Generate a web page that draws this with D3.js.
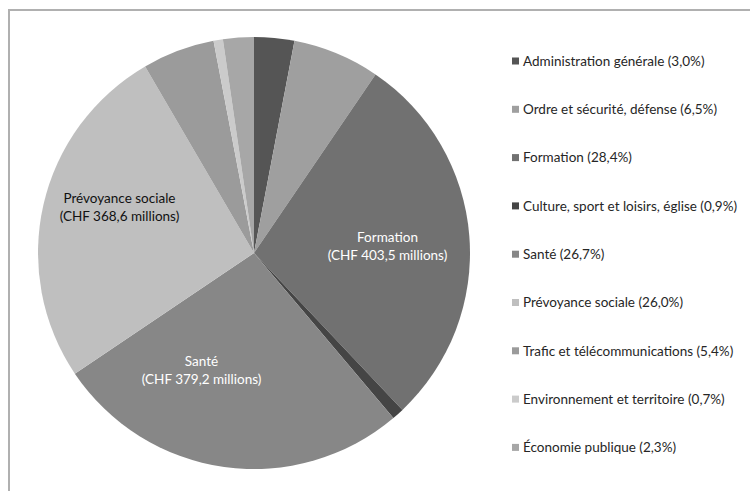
<!DOCTYPE html>
<html>
<head>
<meta charset="utf-8">
<script src="https://cdnjs.cloudflare.com/ajax/libs/d3/7.8.5/d3.min.js"></script>
<style>
body { margin: 0; background: #fff; }
text { font-family: Lato, "Open Sans", sans-serif; }
</style>
</head>
<body>
<svg id="chart" width="750" height="491"></svg>
<script>
// postes de dépenses, dans l'ordre du graphique
var categories = ["Administration générale", "Ordre et sécurité, défense", "Formation",
    "Culture, sport et loisirs, église", "Santé", "Prévoyance sociale",
    "Trafic et télécommunications", "Environnement et territoire", "Économie publique"];
var shares = [3.0, 6.5, 28.4, 0.9, 26.7, 26.0, 5.4, 0.7, 2.3];
var shareLabels = ["3,0%", "6,5%", "28,4%", "0,9%", "26,7%", "26,0%", "5,4%", "0,7%", "2,3%"];
var colors = ["#555555", "#9f9f9f", "#717171", "#454545", "#878787", "#bfbfbf", "#9b9b9b", "#cbcbcb", "#a7a7a7"];
// étiquettes dans les grandes parts
var bigLabels = [null, null, ["Formation", "(CHF 403,5 millions)"], null,
    ["Santé", "(CHF 379,2 millions)"], ["Prévoyance sociale", "(CHF 368,6 millions)"], null, null, null];
var labelColors = [null, null, "#fff", null, "#fff", "#111", null, null, null];

var svg = d3.select('#chart');

svg.append("rect")
    .attr("x", 9).attr("y", 10)
    .attr("width", 760).attr("height", 500)
    .attr("fill", "none")
    .attr("stroke", "#b0b0b0")
    .attr("stroke-width", 2);

var cx = 254, cy = 253, r = 216;
var g = svg.append('g').attr("transform", "translate(" + cx + "," + cy + ")");

var pie = d3.pie().sort(null).value(function (d) { return d; });
var arc = d3.arc().innerRadius(0).outerRadius(r);
var labelArc = d3.arc().innerRadius(r * 0.62).outerRadius(r * 0.62);
var arcs = pie(shares);

g.selectAll(".slice")
    .data(arcs)
    .enter().append("path")
    .attr("class", "slice")
    .attr("d", arc)
    .attr("fill", function (d, i) { return colors[i]; });

// petit décalage façon Excel pour les étiquettes
var nudge = { 2: [0, 4], 4: [-34, -16], 5: [-4, -16] };

var lab = g.selectAll(".lab")
    .data(arcs.filter(function (d, i) { return bigLabels[i]; }))
    .enter().append("text")
    .attr("class", "lab")
    .attr("text-anchor", "middle")
    .attr("font-size", 13.5)
    .attr("fill", function (d) { return labelColors[d.index]; })
    .attr("transform", function (d) {
        var c = labelArc.centroid(d);
        var n = nudge[d.index] || [0, 0];
        return "translate(" + (c[0] + n[0]) + "," + (c[1] + n[1]) + ")";
    });

lab.append("tspan").attr("x", 0).attr("dy", "-0.3em").text(function (d) { return bigLabels[d.index][0]; });
lab.append("tspan").attr("x", 0).attr("dy", "1.35em").text(function (d) { return bigLabels[d.index][1]; });

var legend = svg.append("g").attr("transform", "translate(512,61)");
var item = legend.selectAll(".item")
    .data(categories)
    .enter().append("g")
    .attr("class", "item")
    .attr("transform", function (d, i) { return "translate(0," + (i * 48.3) + ")"; });

item.append("rect")
    .attr("x", 0).attr("y", -3.5)
    .attr("width", 7).attr("height", 7)
    .attr("fill", function (d, i) { return colors[i]; });

item.append("text")
    .attr("x", 11)
    .attr("dy", "0.35em")
    .attr("font-size", 13.5)
    .attr("fill", "#262626")
    .text(function (d, i) { return d + " (" + shareLabels[i] + ")"; });
</script>
</body>
</html>
